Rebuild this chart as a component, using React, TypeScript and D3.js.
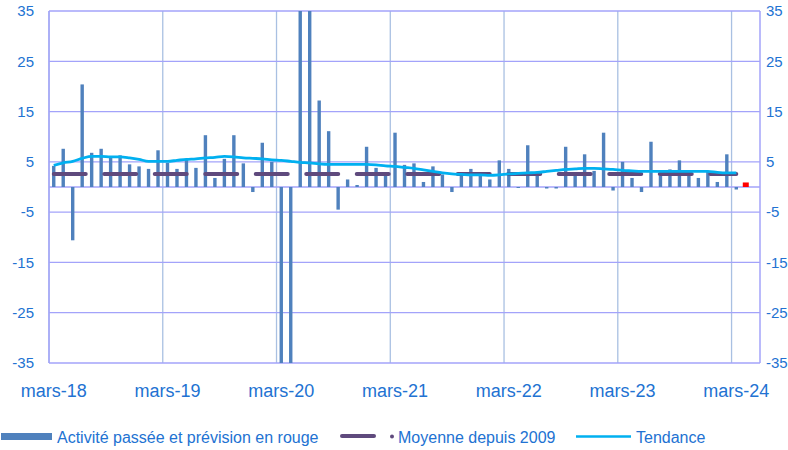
import React from "react";
import * as d3 from "d3";

// ---- Data ----
const monthNames = ["mars", "avr.", "mai", "juin", "juil.", "août", "sept.", "oct.", "nov.", "déc.", "janv.", "févr."];
const categories: string[] = [];
for (let i = 0; i < 75; i++) {
  const m = i % 12;
  const yr = 18 + Math.floor((i + 2) / 12);
  categories.push(`${monthNames[m]}-${yr}`);
}

const activity = [
  4.2, 7.6, -10.6, 20.4, 6.8, 7.6, 5.8, 6.3, 4.5, 4.1, 3.6, 7.3,
  4.8, 3.6, 5.6, 3.8, 10.3, 1.8, 5.6, 10.3, 4.7, -1.0, 8.8, 5.0,
  -40, -45, 45, 40, 17.2, 11.1, -4.5, 1.5, 0.4, 8.0, 3.8, 2.2,
  10.8, 4.4, 4.7, 1.0, 4.1, 2.5, -1.0, 2.3, 3.6, 2.2, 1.5, 5.3,
  3.6, -0.2, 8.3, 2.2, -0.3, -0.3, 8.0, 2.2, 6.5, 3.2, 10.8, -0.7,
  5.0, 1.8, -1.0, 9.0, 2.2, 3.5, 5.3, 2.2, 1.8, 3.2, 1.0, 6.5,
  -0.5,
];
const forecastIndex = 73;
const forecastValue = 0.9;

const averageSince2009 = 2.6;

const trend = [
  4.3, 4.8, 5.1, 5.7, 6.1, 6.1, 6.0, 6.0, 5.8, 5.5, 5.1, 5.1,
  5.1, 5.3, 5.5, 5.6, 5.8, 5.9, 6.1, 6.0, 5.8, 5.7, 5.6, 5.4,
  5.3, 5.1, 4.9, 4.8, 4.6, 4.5, 4.5, 4.5, 4.5, 4.5, 4.4, 4.2,
  4.1, 3.9, 3.7, 3.4, 3.1, 2.8, 2.6, 2.5, 2.4, 2.4, 2.3, 2.4,
  2.6, 2.7, 2.8, 2.9, 3.1, 3.3, 3.5, 3.6, 3.7, 3.7, 3.6, 3.5,
  3.3, 3.2, 3.1, 3.1, 3.1, 3.1, 3.1, 3.1, 3.1, 3.1, 2.9, 2.8,
  2.8,
];

const yTicks = [-35, -25, -15, -5, 5, 15, 25, 35];
const xTickLabels = ["mars-18", "mars-19", "mars-20", "mars-21", "mars-22", "mars-23", "mars-24"];

const legendLabels = ["Activité passée et prévision en rouge", "Moyenne depuis 2009", "Tendance"];

// ---- Style ----
const W = 788, H = 450;
const left = 49, right = 760, top = 11, bottom = 363;
const textColor = "#2272D2";
const barColor = "#4F81BD";
const avgColor = "#5F4A7D";
const trendColor = "#00B0F0";
const hGrid = "#A3A3FA";
const vGrid = "#A9C0E2";
const font = "'Liberation Sans', Arial, sans-serif";

export default function App() {
  const x = d3.scaleBand<string>().domain(categories).range([left, right]).padding(0);
  const bw = x.bandwidth();
  const cx = (i: number) => (x(categories[i]) as number) + bw / 2;
  const y = d3.scaleLinear().domain([-35, 35]).range([bottom, top]);

  const trendPath = d3.line<number>().x((_, i) => cx(i)).y((d) => y(d)).curve(d3.curveMonotoneX)(trend) || "";
  const avgPath = d3.line<number>().x((_, i) => cx(i)).y(() => y(averageSince2009))(activity) || "";

  const barW = 3.4;

  return (
    <div style={{ position: "absolute", left: 0, top: 0 }}>
      <svg width={W} height={H} style={{ display: "block", fontFamily: font }}>
        <defs>
          <clipPath id="plot">
            <rect x={left} y={top} width={right - left} height={bottom - top} />
          </clipPath>
        </defs>
        {/* vertical grid */}
        {xTickLabels.map((lab) => {
          const xx = x(lab) as number;
          return <line key={lab} x1={xx} x2={xx} y1={top} y2={bottom} stroke={vGrid} strokeWidth={1.3} />;
        })}
        {/* horizontal grid */}
        {yTicks.map((t) => (
          <line key={t} x1={left} x2={right} y1={y(t)} y2={y(t)} stroke={hGrid} strokeWidth={1.3} />
        ))}
        {/* zero axis */}
        <line x1={left} x2={right} y1={y(0)} y2={y(0)} stroke={hGrid} strokeWidth={1.3} />
        {/* border */}
        <line x1={left} x2={left} y1={top} y2={bottom} stroke={hGrid} strokeWidth={1.5} />
        <line x1={right} x2={right} y1={top} y2={bottom} stroke={hGrid} strokeWidth={1.5} />
        {/* bars */}
        <g clipPath="url(#plot)">
          {activity.map((v, i) => (
            <rect
              key={i}
              x={cx(i) - barW / 2}
              y={Math.min(y(v), y(0))}
              width={barW}
              height={Math.abs(y(v) - y(0))}
              fill={barColor}
            />
          ))}
          <rect
            x={cx(forecastIndex) - 3}
            y={y(forecastValue)}
            width={6}
            height={y(0) - y(forecastValue)}
            fill="#FF0000"
          />
        </g>
        {/* average dashed line */}
        <path d={avgPath} fill="none" stroke={avgColor} strokeWidth={4} strokeDasharray="32 18.5" strokeLinecap="round" />
        {/* trend */}
        <path d={trendPath} fill="none" stroke={trendColor} strokeWidth={2.8} strokeLinejoin="round" />
        {/* left axis labels */}
        {yTicks.map((t) => (
          <text key={"l" + t} x={34} y={y(t)} dy="0.35em" textAnchor="end" fontSize={15} fill={textColor}>
            {t}
          </text>
        ))}
        {/* right axis labels */}
        {yTicks.map((t) => (
          <text key={"r" + t} x={766} y={y(t)} dy="0.35em" textAnchor="start" fontSize={15} fill={textColor}>
            {t}
          </text>
        ))}
        {/* x labels */}
        {xTickLabels.map((lab) => (
          <text key={"x" + lab} x={cx(categories.indexOf(lab))} y={397} textAnchor="middle" fontSize={18} fill={textColor}>
            {lab}
          </text>
        ))}
        {/* legend */}
        <g fontSize={16} fill={textColor}>
          <rect x={1} y={433} width={51} height={7} fill={barColor} />
          <text x={57} y={443}>{legendLabels[0]}</text>
          <line x1={342} x2={374} y1={436} y2={436} stroke={avgColor} strokeWidth={4} strokeLinecap="round" />
          <circle cx={392} cy={436.5} r={2} fill={avgColor} />
          <text x={398} y={443}>{legendLabels[1]}</text>
          <line x1={576} x2={631} y1={436.5} y2={436.5} stroke={trendColor} strokeWidth={2.6} />
          <text x={636} y={443}>{legendLabels[2]}</text>
        </g>
      </svg>
    </div>
  );
}
